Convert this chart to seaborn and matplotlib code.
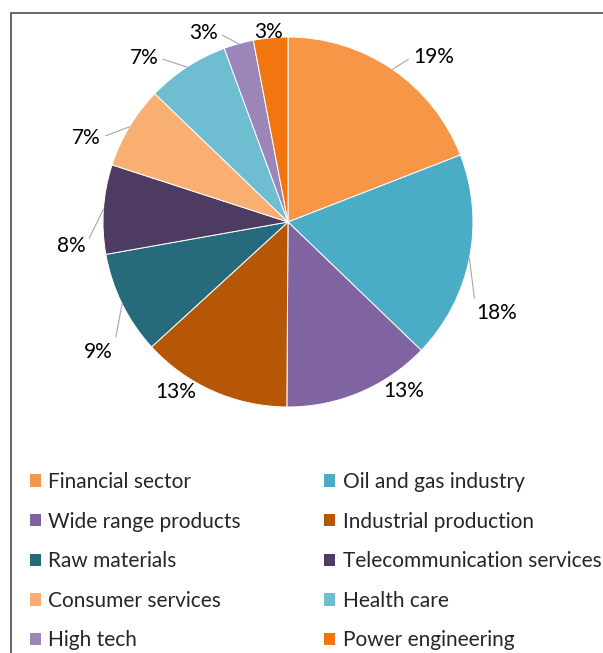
import numpy as np
import matplotlib
matplotlib.use("Agg")
import matplotlib.pyplot as plt
import seaborn as sns
from matplotlib.patches import Patch, Rectangle

# ---- data ----
sectors = ["Financial sector", "Oil and gas industry", "Wide range products",
           "Industrial production", "Raw materials", "Telecommunication services",
           "Consumer services", "Health care", "High tech", "Power engineering"]
shares = [19.1, 18.1, 12.9, 13.1, 9.0, 7.8, 7.2, 7.2, 2.6, 3.0]
colors = ["#F79646", "#4BACC6", "#8064A2", "#B65708", "#276A7C",
          "#4D3B62", "#F9AE72", "#6FBDD1", "#9C85B8", "#F1760F"]

# label placement styling (radial distance, angular shift clockwise in degrees, leader line)
label_dist = [1.19, 1.23, 1.11, 1.10, 1.24, 1.18, 1.18, 1.18, 1.12, 1.03]
label_shift = [6.9, 12.2, -11.6, 9.5, -8.1, -10.3, -8.2, -8.1, -8.6, -0.4]
leader = [True, True, False, False, True, True, True, True, True, False]

sns.set_style("white")
plt.rcParams["font.family"] = ["Lato", "DejaVu Sans"]
FS = 15

W, H = 603, 653
fig = plt.figure(figsize=(W / 100, H / 100), dpi=100)

cx, cy, r = 288, 222, 185
xl, xr, yb, yt = -1.5, 1.7, -1.3, 1.2
ax = fig.add_axes([(cx + xl * r) / W, 1 - (cy - yb * r) / H,
                   (xr - xl) * r / W, (yt - yb) * r / H])

palette = sns.color_palette(colors)
wedges, _ = ax.pie(shares, colors=palette, startangle=90, counterclock=False,
                   wedgeprops=dict(edgecolor="white", linewidth=0.7))
ax.set_xlim(xl, xr)
ax.set_ylim(yb, yt)
ax.set_aspect("auto")
ax.axis("off")

for i, w in enumerate(wedges):
    mid = np.deg2rad((w.theta1 + w.theta2) / 2)
    la = mid - np.deg2rad(label_shift[i])
    tx, ty = label_dist[i] * np.cos(la), label_dist[i] * np.sin(la)
    txt = f"{round(shares[i]):.0f}%"
    if leader[i]:
        ax.annotate(txt, xy=(np.cos(mid), np.sin(mid)), xytext=(tx, ty),
                    ha="center", va="center", fontsize=FS, color="#000000",
                    arrowprops=dict(arrowstyle="-", color="#A6A6A6", lw=0.8,
                                    shrinkA=1, shrinkB=0,
                                    relpos=(0 if tx > 0 else 1, 0.5)))
    else:
        ax.text(tx, ty, txt, ha="center", va="center", fontsize=FS, color="#000000")

# legend, row-major order like the reference
order = [0, 2, 4, 6, 8, 1, 3, 5, 7, 9]
handles = [Patch(facecolor=palette[i], edgecolor="none") for i in order]
labels = [sectors[i] for i in order]
fig.legend(handles, labels, ncol=2, loc="upper left",
           bbox_to_anchor=(30 / W, 1 - 472 / H), frameon=False, fontsize=FS,
           handlelength=0.53, handleheight=0.53, handletextpad=0.35,
           columnspacing=4.0, labelspacing=0.94, borderpad=0, borderaxespad=0)

# outer chart frame (partially cropped)
fig.add_artist(Rectangle((11 / W, -0.05), 1.2, 1 - 13 / H + 0.05,
                         transform=fig.transFigure, fill=False,
                         edgecolor="#595959", lw=1.3))

fig.savefig("out.png", dpi=100)
